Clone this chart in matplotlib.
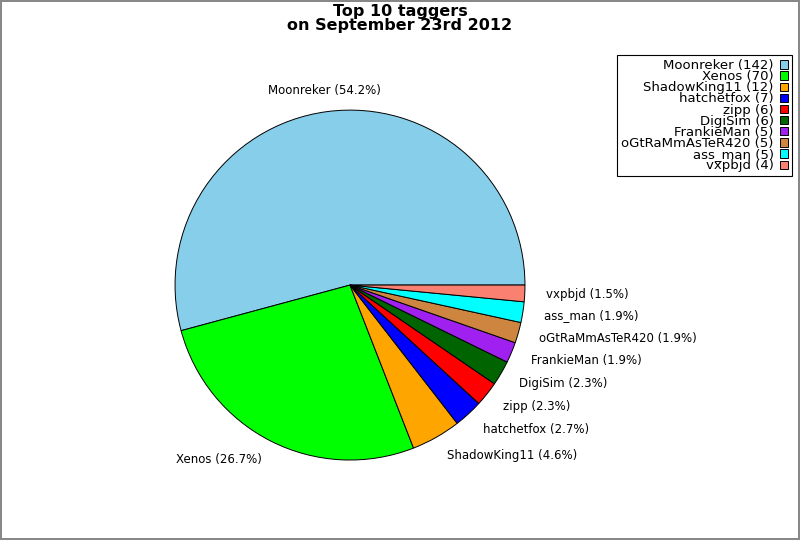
import matplotlib
matplotlib.use("Agg")
import matplotlib.pyplot as plt

names = ['Moonreker', 'Xenos', 'ShadowKing11', 'hatchetfox', 'zipp', 'DigiSim',
         'FrankieMan', 'oGtRaMmAsTeR420', 'ass_man', 'vxpbjd']
counts = [142, 70, 12, 7, 6, 6, 5, 5, 5, 4]
colors = ['#87ceeb', '#00ff00', '#ffa500', '#0000ff', '#ff0000', '#006400',
          '#a020f0', '#cd853f', '#00ffff', '#fa8072']

total = float(sum(counts))
pie_labels = ['%s (%.1f%%)' % (n, c * 100.0 / total) for n, c in zip(names, counts)]
legend_labels = ['%s (%d)' % (n, c) for n, c in zip(names, counts)]

fig = plt.figure(figsize=(8, 5.4), dpi=100)
fig.patch.set_edgecolor('#888888')
fig.patch.set_linewidth(1.5)

ax = fig.add_axes([0.164, 0.0671, 0.547, 0.810])
wedges, texts = ax.pie(counts, labels=pie_labels, colors=colors, startangle=0,
                       labeldistance=1.12,
                       wedgeprops={'edgecolor': 'black', 'linewidth': 0.7},
                       textprops={'fontsize': 8.5})
texts[0].set_ha('center')

fig.suptitle('Top 10 taggers\non September 23rd 2012', fontsize=11.5,
             fontweight='bold', y=0.993, linespacing=0.95)

leg = fig.legend(wedges, legend_labels, loc='upper right',
                 bbox_to_anchor=(0.99, 0.898), borderaxespad=0,
                 fontsize=9.5, markerfirst=False, labelspacing=-0.14,
                 handlelength=0.6, handleheight=0.6, handletextpad=0.5,
                 fancybox=False, framealpha=1, borderpad=0.3)
leg.get_frame().set_edgecolor('black')
leg.get_frame().set_linewidth(0.8)
for t in leg.get_texts():
    t.set_ha('right')

fig.savefig('out.png', dpi=100)
